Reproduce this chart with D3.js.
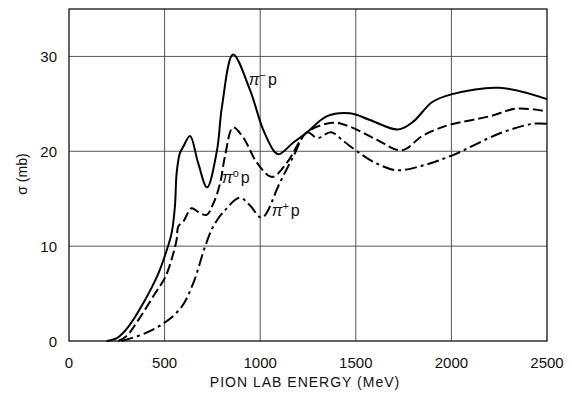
<!DOCTYPE html>
<html>
<head>
<meta charset="utf-8">
<script src="https://cdn.jsdelivr.net/npm/d3@7"></script>
<style>
  body { margin: 0; background: white; }
  svg { display: block; }
  text { font-family: "Liberation Sans", Arial, sans-serif; fill: #111; }
</style>
</head>
<body>
<div id="viz-container"></div>
<script>
// values (MeV, mb)
let energyMinus = [197, 250, 310, 397, 467, 505, 537, 554, 563, 580, 598, 633, 675, 722, 774, 800, 858, 946, 1015, 1077, 1100, 1172, 1245, 1350, 1470, 1574, 1721, 1799, 1900, 2000, 2250, 2500];
let sigmaMinus  = [0, 0.3, 1.5, 4.3, 7.1, 9.2, 11.4, 14.2, 17.7, 19.8, 20.5, 21.6, 18.8, 16.2, 20.1, 24.7, 30.2, 26.5, 22.3, 19.9, 19.7, 20.9, 22.0, 23.7, 24.0, 23.3, 22.3, 23.1, 25.2, 26.0, 26.7, 25.5];

let energyZero = [258, 300, 362, 450, 505, 545, 563, 572, 598, 641, 676, 720, 755, 790, 816, 858, 910, 983, 1062, 1140, 1245, 1380, 1469, 1611, 1741, 1846, 1920, 1992, 2202, 2343, 2500];
let sigmaZero  = [0, 0.5, 2.2, 5.0, 6.8, 9.2, 10.7, 12.1, 12.6, 14.0, 13.6, 13.3, 14.5, 16.6, 19.5, 22.5, 21.5, 18.8, 17.3, 18.8, 22.0, 23.0, 22.6, 21.2, 20.1, 21.6, 22.3, 22.8, 23.7, 24.5, 24.2];

let energyPlus = [275, 397, 505, 589, 650, 711, 755, 816, 894, 946, 1009, 1103, 1172, 1245, 1300, 1370, 1440, 1506, 1600, 1716, 1850, 2008, 2254, 2427, 2500];
let sigmaPlus  = [0, 0.8, 2.0, 3.6, 6.1, 9.9, 12.1, 13.8, 15.1, 14.3, 13.0, 16.7, 19.4, 22.0, 21.4, 22.0, 21.0, 20.0, 18.8, 18.0, 18.5, 19.6, 21.9, 22.9, 22.9];

let xTicks = [0, 500, 1000, 1500, 2000, 2500];
let yTicks = [0, 10, 20, 30];

let width = 572, height = 404;
let plotLeft = 69, plotRight = 547, plotTop = 9, plotBottom = 341;

let viz = d3.select("#viz-container")
  .append("svg")
    .attr("width", width)
    .attr("height", height);

let x = d3.scaleLinear().domain([0, 2500]).range([plotLeft, plotRight]);
let y = d3.scaleLinear().domain([0, 35]).range([plotBottom, plotTop]);

// grid
viz.selectAll(".vgrid").data(xTicks.slice(1, -1)).enter()
  .append("line")
    .attr("x1", d => x(d)).attr("x2", d => x(d))
    .attr("y1", plotTop).attr("y2", plotBottom)
    .style("stroke", "#444").style("stroke-width", 0.9);
viz.selectAll(".hgrid").data(yTicks.slice(1)).enter()
  .append("line")
    .attr("x1", plotLeft).attr("x2", plotRight)
    .attr("y1", d => y(d)).attr("y2", d => y(d))
    .style("stroke", "#444").style("stroke-width", 0.9);

// frame
viz.append("rect")
  .attr("x", plotLeft).attr("y", plotTop)
  .attr("width", plotRight - plotLeft).attr("height", plotBottom - plotTop)
  .style("fill", "none").style("stroke", "#111").style("stroke-width", 1.3);

// tick labels
viz.selectAll(".xlab").data(xTicks).enter()
  .append("text")
    .attr("x", d => x(d)).attr("y", 368)
    .attr("text-anchor", "middle")
    .style("font-size", "15px")
    .text(d => d);
viz.selectAll(".ylab").data(yTicks).enter()
  .append("text")
    .attr("x", 57).attr("y", d => y(d) + 6)
    .attr("text-anchor", "end")
    .style("font-size", "15px")
    .text(d => d);

// axis titles
viz.append("text")
  .attr("x", 305).attr("y", 387)
  .attr("text-anchor", "middle")
  .style("font-size", "14px")
  .style("letter-spacing", "1px")
  .text("PION LAB ENERGY (MeV)");
viz.append("text")
  .attr("transform", "translate(27,174) rotate(-90)")
  .attr("text-anchor", "middle")
  .style("font-size", "14px")
  .text("σ (mb)");

// curves
let line = d3.line()
  .x(d => x(d[0]))
  .y(d => y(d[1]))
  .curve(d3.curveCatmullRom.alpha(0.5));

function drawCurve(energy, sigma, dash){
  viz.append("path")
    .datum(d3.zip(energy, sigma))
    .attr("d", line)
    .style("fill", "none")
    .style("stroke", "#000")
    .style("stroke-width", 2)
    .style("stroke-dasharray", dash);
}

drawCurve(energyMinus, sigmaMinus, null);
drawCurve(energyZero, sigmaZero, "10,4");
drawCurve(energyPlus, sigmaPlus, "12,4,3,4");

// curve labels
function curveLabel(px, py, sup){
  let t = viz.append("text")
    .attr("x", px).attr("y", py)
    .style("font-size", "16px");
  t.append("tspan").text("π").style("font-style", "italic");
  t.append("tspan").text(sup).attr("dy", -6).style("font-size", "11px");
  t.append("tspan").text("p").attr("dy", 6).attr("dx", 2);
}
curveLabel(x(940), y(27.0), "−");
curveLabel(x(800), y(16.7), "o");
curveLabel(x(1060), y(13.2), "+");
</script>
</body>
</html>
